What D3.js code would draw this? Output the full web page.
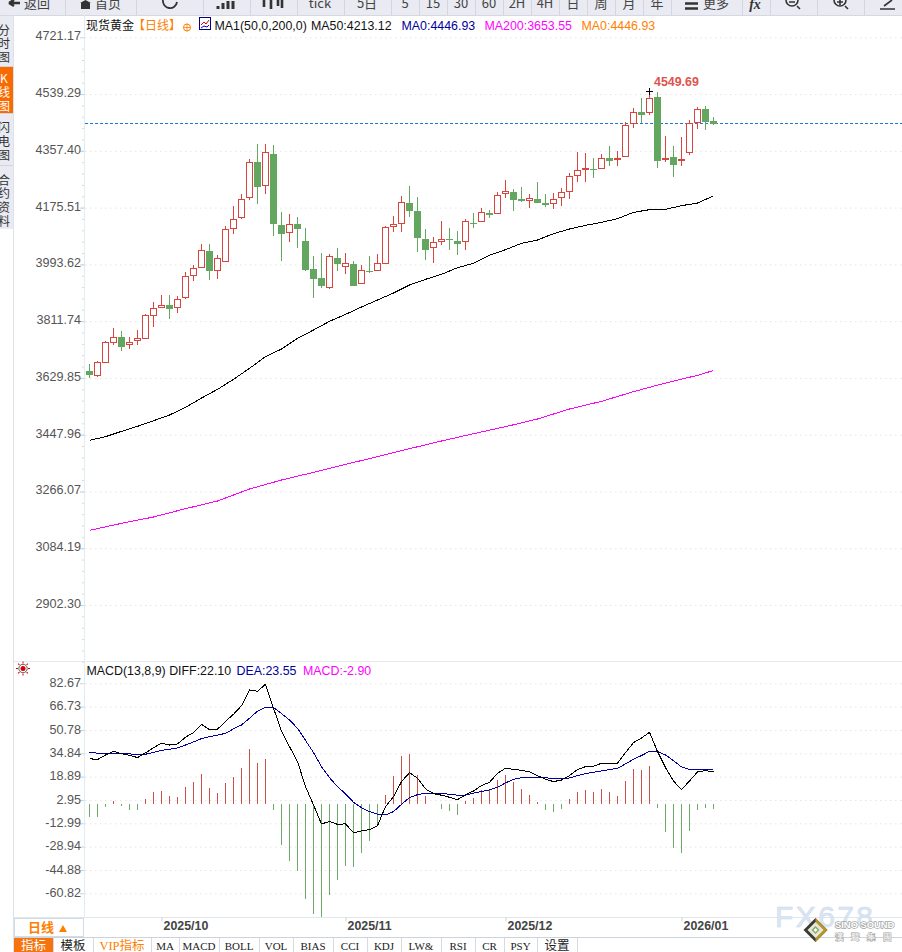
<!DOCTYPE html>
<html>
<head>
<meta charset="utf-8">
<title>现货黄金 日线</title>
<script src="https://cdn.jsdelivr.net/npm/d3@7"></script>
<style>
  html, body { margin: 0; padding: 0; background: #fff; overflow: hidden; }
  svg { display: block; font-family: "Liberation Sans", Arial, sans-serif; }
  .cjk { font-family: "Noto Sans CJK SC", sans-serif; }
</style>
</head>
<body>
<svg id="chart" width="902" height="952"></svg>
<script>
// daily candles, one entry per trading day
const candleOpen = [3655.2,3639.2,3681.9,3742.8,3764.1,3736.3,3749.2,3755.6,3829.3,3858.1,
  3866.6,3854.9,3886.9,3957.4,3983.1,4038.6,3973.4,4002.3,4108,4143.3,
  4207.3,4324.8,4245.8,4349.4,4123,4096.3,4126.2,4071.7,3982,3953.1,
  3919,4017.2,3986.3,3998,3931.8,3974.5,3973.4,3995.8,4114.4,4125.1,
  4193.4,4167.8,4078.1,4047.1,4067.4,4077,4071.7,4067.4,4129.3,4130.4,
  4161.4,4156,4221.2,4228.7,4206.2,4200.9,4206.2,4193.4,4189.1,4208.5,
  4226.6,4277.9,4298.2,4301.4,4301.4,4336.6,4329.1,4339.8,4445.6,4484,
  4479.7,4533.1,4331.3,4340.9,4325.9,4351.6,4448.8,4494.7,4456.2];
const candleClose = [3642.4,3679.7,3744.9,3759.8,3732.1,3743.8,3756.6,3830.3,3852.8,3863.4,
  3854.9,3881.6,3955.3,3980.9,4038.6,3973.4,4013,4105.9,4137.9,4202,
  4320.5,4245.8,4352.6,4124,4095.2,4121.9,4110.1,3978.8,3949.9,3927.5,
  4019.4,3998,3996.9,3927.5,3974.5,3973.4,3996.9,4112.2,4121.9,4192.3,
  4168.8,4081.3,4042.8,4064.2,4073.8,4072.7,4062,4131.5,4127.2,4160.3,
  4156,4214.8,4227.6,4203,4200.9,4206.2,4193.4,4188.1,4202,4224.5,
  4275.7,4295,4301.4,4300.3,4333.4,4328.1,4333.4,4439.2,4480.8,4475.5,
  4525.7,4328.1,4334.5,4315.3,4330.2,4445.6,4490.4,4453,4446.93];
const candleHigh = [3674.4,3684,3748.1,3789.7,3780.1,3762,3783.3,3834.6,3872,3895.5,
  3895.5,3892.3,3969.2,3991.6,4058.9,4058.9,4023.6,4116.6,4180.6,4219.1,
  4331.2,4379.3,4379.3,4376.1,4161.4,4155,4145.4,4110.1,4020.4,4030,
  4026.8,4046.1,4030,4004.4,3991.6,4020.4,4026.8,4116.5,4148.6,4212.6,
  4244.7,4209.4,4106.9,4081.3,4132.5,4110.1,4100.5,4138.9,4158.2,4174.2,
  4167.8,4225.5,4263.9,4235.1,4241.5,4219,4257.5,4219,4222.2,4238.4,
  4286.4,4353.7,4350.5,4334.5,4347.3,4372.9,4356.9,4449.8,4494.7,4526.7,
  4549.69,4547,4405,4372.9,4401.8,4456.2,4497.9,4501.1,4465.9];
const candleLow = [3629.5,3633.8,3681.9,3735.3,3716.1,3722.5,3735.3,3754.5,3793,3854.9,
  3818.6,3837.8,3882.7,3940.3,3983.1,3943.5,3946.7,4002.3,4090.9,4139,
  4199.9,4187,4219.1,4084.5,4004.4,4065.3,4046.1,3972.4,3885.9,3917.9,
  3914.7,3972.4,3962.8,3927.5,3930.7,3966,3973.4,3995.8,4097.3,4097.3,
  4145.4,4033.2,4007.6,3998,4055.6,4039.6,4023.6,4039.6,4110.1,4130.4,
  4142.1,4156,4206.2,4164.6,4193.4,4174.2,4190.2,4177.4,4171,4180.7,
  4203.1,4257.6,4257.6,4270.4,4301.4,4308.9,4308.9,4339.8,4430.6,4446.6,
  4472.3,4302.4,4321.7,4273.6,4308.9,4344.1,4427.4,4424.2,4440.2];

const ma50Days = [0,2,4,6,8,10,12,14,16,18,20,22,24,26,28,30,32,34,36,38,
  40,42,44,46,48,50,52,54,56,58,60,62,64,66,68,70,72,74,76,78];
const ma50Values = [3429.8,3441.6,3458.6,3474.7,3492.8,3511,3535.5,3565.4,3593.2,3625.3,
  3660.5,3697.9,3722.4,3756.6,3783.3,3811.1,3833.5,3857,3879.5,3901.8,
  3927.5,3945.7,3961.7,3983.1,3996.9,4022.6,4040.7,4061,4071.7,4092,
  4106.9,4118.7,4128.3,4140.1,4160.3,4168.9,4170,4181.7,4190.2,4213.12];
const ma200Days = [0,4,8,12,16,20,24,28,32,36,40,44,48,52,56,60,64,68,72,76,78];
const ma200Values = [3141.5,3163.9,3184.2,3210.9,3235.4,3273.9,3302.7,3327.3,3352.9,3377.5,
  3403.1,3427.7,3451.2,3473.6,3498.2,3530.2,3554.8,3585.8,3613.5,3638.1,3653.55];

// MACD panel
const diffValues = [31.2,30.5,33.7,36.2,34.6,33.5,31.9,35.1,38.7,41.7,
  40.5,41.2,45.8,49,54.7,51,51.3,56.7,61.5,67.4,
  78.1,77.2,82,65.6,50.1,39.4,29.2,12.1,-0.5,-13.4,
  -11.8,-13.7,-13.4,-19.4,-18.2,-17.3,-14.6,-1.6,5.2,15.5,
  21.6,17.8,10.5,7.3,6.2,4.8,3.2,6.4,9.1,12.8,
  15,21.2,24.6,23.9,23.2,22.1,19.6,17.1,15.5,16.6,
  19.6,23.7,25.7,26,28,28,28,35.3,42.1,45.3,
  49.2,36,25.1,15.9,10,15.9,22.1,23,22.1];
const deaValues = [35.5,34.9,34.4,34.9,34.9,34.4,34.2,34.2,35.5,36.9,
  37.6,38.5,40.5,42.6,44.9,46.2,47.2,48.5,51.5,54.2,
  58.8,63.6,66.3,66.1,62,57.6,51.9,43.7,35.3,25.7,
  18.2,12.1,7.1,1.4,-2.3,-5,-6.8,-7.3,-5,0,
  4.6,6.6,7.7,7.5,7.5,6.8,6.2,6.2,7.7,8.7,
  9.8,11.6,14.6,17.1,18.2,18.5,18.5,18.2,17.5,17.5,
  18,19.6,21,21.9,22.8,23.7,24.6,27.6,30.8,33.3,
  36.2,36.2,33.7,29.8,25.5,23.9,23.9,23.5,23.55];
const macdBars = [-8.9,-8.9,-2,2.5,-1.4,-3.6,-4.1,3.9,8.7,9.3,
  5.9,5.2,12.1,15.5,20.9,11.4,8,14.8,18.9,25,
  38,28.5,31.2,-3.6,-28,-38.5,-45.3,-64.4,-74.7,-76.7,
  -61.7,-51.5,-41.9,-42.6,-33,-24.8,-13.9,6.6,19.6,33.2,
  34.6,20.3,5.9,0.5,-3,-4.3,-7.1,2.5,4.6,10,
  10,16.8,20.3,15.5,10.7,6.6,1.8,-3.6,-5,-3,
  3.9,8.7,10,8.7,10.7,8.7,5.9,16.2,24.4,23.7,
  26.4,-2.3,-18.7,-29.6,-33,-18,-3.6,-2.3,-2.9];

// axis labels
const priceTicks = [4721.17,4539.29,4357.40,4175.51,3993.62,3811.74,3629.85,3447.96,3266.07,3084.19,2902.30];
const macdTicks = [82.67,66.73,50.78,34.84,18.89,2.95,-12.99,-28.94,-44.88,-60.82];
const monthDays = [9,32,52,74];
const monthLabels = ["2025/10","2025/11","2025/12","2026/01"];
const lastClose = 4446.93;
const maxHigh = 4549.69;

const red = "#d9443f", green = "#62a65f", navy = "#00009c", magenta = "#ff00ff", orange = "#ff8000";
const svg = d3.select("#chart");

const x = d3.scaleLinear().domain([0, 78]).range([89.5, 713.5]);
const priceY = d3.scaleLinear().domain([2902.30, 4721.17]).range([605, 37.3]);
const macdY = d3.scaleLinear().domain([-60.82, 82.67]).range([893.3, 683.3]);
const snap = (v) => Math.round(v) + 0.5;

// --- window chrome behind the chart
svg.append("rect").attr("x", 0).attr("y", 0).attr("width", 902).attr("height", 15).attr("fill", "#e9eaf2");
svg.append("line").attr("x1", 0).attr("x2", 902).attr("y1", 15.5).attr("y2", 15.5).attr("stroke", "#d5d8e0");
svg.append("line").attr("x1", 13.5).attr("x2", 13.5).attr("y1", 15).attr("y2", 952).attr("stroke", "#dde2ea");
svg.append("line").attr("x1", 84.5).attr("x2", 84.5).attr("y1", 15).attr("y2", 917).attr("stroke", "#e2ebf2");

// --- price panel
const gridAxis = (scale, ticks) => d3.axisRight(scale).tickValues(ticks).tickSize(817).tickFormat("");
const gridStyle = (g) => {
  g.select(".domain").remove();
  g.selectAll("line").attr("stroke", "#e4e4e4").attr("stroke-dasharray", "1.5,3.5");
};
const labelAxis = (g, scale, ticks, lift) => {
  g.attr("transform", "translate(84,0)")
    .call(d3.axisLeft(scale).tickValues(ticks).tickSize(4).tickPadding(-1).tickFormat((d) => d.toFixed(2)));
  g.select(".domain").remove();
  g.selectAll("line").attr("stroke", "#c8d0d8");
  g.selectAll("text").attr("y", -lift).attr("font-size", 12.6).attr("fill", "#555").attr("font-family", "Liberation Sans");
};
const minorAxis = (g, scale, lo, hi, step) => {
  g.attr("transform", "translate(84,0)")
    .call(d3.axisLeft(scale).tickValues(d3.range(lo, hi, step)).tickSize(2).tickFormat(""));
  g.select(".domain").remove();
  g.selectAll("line").attr("stroke", "#d3dae0");
};

svg.append("g").attr("transform", "translate(85,0)").call(gridAxis(priceY, priceTicks)).call(gridStyle);
svg.append("g").call(minorAxis, priceY, 2720.41, 4721.17, 36.378);
svg.append("g").call(labelAxis, priceY, priceTicks, 1.6);

// dashed line at the last close
svg.append("line")
  .attr("x1", 85).attr("x2", 902)
  .attr("y1", snap(priceY(lastClose))).attr("y2", snap(priceY(lastClose)))
  .attr("stroke", "#1c7ad6").attr("stroke-dasharray", "3,2");

const days = d3.range(candleOpen.length);
const isUp = (i) => candleClose[i] >= candleOpen[i];

const candles = svg.append("g").attr("shape-rendering", "crispEdges");
candles.selectAll("line.wick").data(days).join("line")
  .attr("class", "wick")
  .attr("x1", (i) => x(i)).attr("x2", (i) => x(i))
  .attr("y1", (i) => priceY(candleHigh[i])).attr("y2", (i) => priceY(candleLow[i]))
  .attr("stroke", (i) => (isUp(i) ? red : green));
candles.selectAll("rect.body").data(days).join("rect")
  .attr("class", "body")
  .attr("x", (i) => (isUp(i) ? x(i) - 3 : x(i) - 3.5))
  .attr("width", (i) => (isUp(i) ? 6 : 7))
  .attr("y", (i) => snap(priceY(Math.max(candleOpen[i], candleClose[i]))))
  .attr("height", (i) => Math.max(1, Math.round(Math.abs(priceY(candleOpen[i]) - priceY(candleClose[i])))))
  .attr("fill", (i) => (isUp(i) ? "#fff" : green))
  .attr("stroke", (i) => (isUp(i) ? red : "none"));

const maLine = d3.line().x((d) => x(d[0])).y((d) => priceY(d[1]));
svg.append("path").datum(d3.zip(ma50Days, ma50Values)).attr("d", maLine)
  .attr("fill", "none").attr("stroke", "#000").attr("stroke-width", 1).attr("shape-rendering", "crispEdges");
svg.append("path").datum(d3.zip(ma200Days, ma200Values)).attr("d", maLine)
  .attr("fill", "none").attr("stroke", magenta).attr("stroke-width", 1).attr("shape-rendering", "crispEdges");

// highest price marker
const maxDay = candleHigh.indexOf(maxHigh);
svg.append("path")
  .attr("d", `M${x(maxDay) - 3.5},${snap(priceY(maxHigh))}h7M${x(maxDay)},${snap(priceY(maxHigh)) - 3.5}v7`)
  .attr("stroke", "#000").attr("shape-rendering", "crispEdges");
svg.append("text").attr("x", x(maxDay) + 4.5).attr("y", priceY(maxHigh) - 4.5)
  .attr("font-size", 12.4).attr("font-weight", "bold").attr("fill", "#e0524d").text(maxHigh.toFixed(2));

// legend above the price panel
const legend = (items, y) => items.forEach(([tx, txt, col]) => {
  svg.append("text").attr("x", tx).attr("y", y).attr("font-size", 12.4).attr("fill", col).text(txt);
});
svg.append("text").attr("class", "cjk").attr("x", 86).attr("y", 30).attr("font-size", 12).attr("fill", "#111").text("现货黄金");
svg.append("text").attr("class", "cjk").attr("x", 133).attr("y", 30).attr("font-size", 12).attr("fill", orange).text("【日线】");
svg.append("circle").attr("cx", 187).attr("cy", 27.5).attr("r", 3.5).attr("fill", "none").attr("stroke", orange);
svg.append("path").attr("d", "M183,27.5h8M187,23.5v8").attr("stroke", orange).attr("stroke-width", 0.8);
svg.append("rect").attr("x", 199.5).attr("y", 17.5).attr("width", 11).attr("height", 12).attr("fill", "#fff").attr("stroke", "#000080");
svg.append("path").attr("d", "M201,25l3,-3l2,2l3,-4").attr("fill", "none").attr("stroke", "#d00");
svg.append("path").attr("d", "M201,28l3,-2l3,1l2,-2").attr("fill", "none").attr("stroke", "#00c");
legend([
  [214.5, "MA1(50,0,200,0)", "#111"],
  [311, `MA50:${ma50Values[ma50Values.length - 1]}`, "#111"],
  [401.5, `MA0:${lastClose}`, navy],
  [484.5, `MA200:${ma200Values[ma200Values.length - 1]}`, magenta],
  [581.5, `MA0:${lastClose}`, orange],
], 30);

// --- MACD panel
svg.append("line").attr("x1", 14).attr("x2", 902).attr("y1", 661.5).attr("y2", 661.5).attr("stroke", "#e4eaef");
svg.append("g").attr("transform", "translate(85,0)").call(gridAxis(macdY, macdTicks)).call(gridStyle);
svg.append("g").call(labelAxis, macdY, macdTicks, 1);

const barGroup = svg.append("g").attr("shape-rendering", "crispEdges");
barGroup.selectAll("line").data(days).join("line")
  .attr("x1", (i) => x(i)).attr("x2", (i) => x(i))
  .attr("y1", macdY(0)).attr("y2", (i) => macdY(macdBars[i]))
  .attr("stroke", (i) => (macdBars[i] >= 0 ? "#c9514c" : "#6fa86a"));

const macdLine = d3.line().x((d, i) => x(i)).y((d) => macdY(d));
svg.append("path").datum(deaValues).attr("d", macdLine).attr("fill", "none").attr("stroke", navy).attr("shape-rendering", "crispEdges");
svg.append("path").datum(diffValues).attr("d", macdLine).attr("fill", "none").attr("stroke", "#000").attr("shape-rendering", "crispEdges");

legend([
  [86.5, `MACD(13,8,9) DIFF:${diffValues[78].toFixed(2)}`, "#111"],
  [236.5, `DEA:${deaValues[78]}`, navy],
  [303, `MACD:${macdBars[78].toFixed(2)}`, magenta],
], 675);

// small sun icon
const sun = svg.append("g").attr("transform", "translate(23,668.5)");
sun.append("circle").attr("r", 2.5).attr("fill", "#d40000");
sun.append("circle").attr("r", 4.2).attr("fill", "none").attr("stroke", "#222").attr("stroke-width", 0.7);
d3.range(0, 360, 45).forEach((a) => {
  sun.append("line").attr("x1", 5).attr("x2", 7).attr("transform", `rotate(${a})`).attr("stroke", "#d40000");
});

// --- bottom date axis
const dateAxis = svg.append("g").attr("transform", "translate(0,917.5)")
  .call(d3.axisBottom(x).tickValues(monthDays).tickSize(4).tickFormat((d, i) => monthLabels[i]));
dateAxis.select(".domain").attr("stroke", "#dfe6ec").attr("d", "M14,0H902");
dateAxis.selectAll("line").attr("stroke", "#c8d0d8");
dateAxis.selectAll("text")
  .attr("text-anchor", "start").attr("x", 1.5).attr("y", 12.5).attr("dy", 0)
  .attr("font-size", 12.4).attr("font-weight", "bold").attr("fill", "#444").attr("font-family", "Liberation Sans");

svg.append("rect").attr("x", 14.5).attr("y", 918.5).attr("width", 69).attr("height", 18).attr("fill", "#fff").attr("stroke", "#d5dbe3");
svg.append("text").attr("class", "cjk").attr("x", 28).attr("y", 932).attr("font-size", 13).attr("font-weight", "bold").attr("fill", orange).text("日线");
svg.append("path").attr("d", "M59,932l4,-7l4,7z").attr("fill", orange);

// --- bottom tabs
svg.append("line").attr("x1", 14).attr("x2", 902).attr("y1", 937.5).attr("y2", 937.5).attr("stroke", "#cdd3dc");
svg.append("rect").attr("x", 14).attr("y", 938).attr("width", 39).attr("height", 14).attr("fill", "#f57410");
const tabs = [["指标", 14, 53], ["模板", 53, 93], ["VIP指标", 93, 151], ["MA", 151, 179], ["MACD", 179, 219],
  ["BOLL", 219, 259], ["VOL", 259, 293], ["BIAS", 293, 333], ["CCI", 333, 367], ["KDJ", 367, 401],
  ["LW&", 401, 441], ["RSI", 441, 475], ["CR", 475, 504], ["PSY", 504, 537], ["设置", 537, 577]];
tabs.forEach(([name, a, b], i) => {
  svg.append("line").attr("x1", b + 0.5).attr("x2", b + 0.5).attr("y1", 938).attr("y2", 952).attr("stroke", "#d6dbe3");
  svg.append("text").attr("x", (a + b) / 2).attr("y", 950).attr("text-anchor", "middle")
    .attr("font-size", /[A-Z]/.test(name) && i !== 2 ? 11 : 12.5)
    .attr("font-family", "'Liberation Serif','Noto Sans CJK SC',serif")
    .attr("fill", i === 0 ? "#fff" : i === 2 ? orange : "#222").text(name);
});

// --- top toolbar, its labels cut by the window edge
const toolbarEdges = [65,136,203,250,297,344,391,419,447,475,503,531,559,587,615,643,671,742,770,817,864];
toolbarEdges.forEach((e) => {
  svg.append("line").attr("x1", e + 0.5).attr("x2", e + 0.5).attr("y1", 0).attr("y2", 15).attr("stroke", "#d3d6df");
});
const toolbarLabels = [["返回", 37], ["首页", 108], ["tick", 320], ["5日", 367], ["5", 405], ["15", 433], ["30", 461],
  ["60", 489], ["2H", 517], ["4H", 545], ["日", 573], ["周", 601], ["月", 629], ["年", 657], ["更多", 716]];
toolbarLabels.forEach(([t, cx]) => {
  svg.append("text").attr("class", "cjk").attr("x", cx).attr("y", 7.5).attr("text-anchor", "middle")
    .attr("font-size", 13).attr("fill", "#444").text(t);
});
const toolbarIcons = svg.append("g").attr("fill", "none").attr("stroke", "#333").attr("stroke-width", 1.6);
toolbarIcons.append("path").attr("d", "M9,3L14,0M9,3L14,6M9,3H20").attr("stroke-width", 2.5);
toolbarIcons.append("path").attr("d", "M80,3L85.5,0L91,3H90V9H81V3z").attr("fill", "#333").attr("stroke", "none");
toolbarIcons.append("path").attr("d", "M163,0A7,7 0 0,0 177,2").attr("stroke-width", 1.8);
toolbarIcons.append("path").attr("d", "M218,9V6M223,9V3M228,9V1M233,9V1").attr("stroke-width", 3);
toolbarIcons.append("path").attr("d", "M264,0V7M271,0V9M278,0V6M282,0V8").attr("stroke-width", 2.6);
toolbarIcons.append("path").attr("d", "M685,8.5H698M685,3.5H698").attr("stroke-width", 2.4);
svg.append("text").attr("x", 755).attr("y", 9).attr("text-anchor", "middle").attr("font-size", 14).attr("font-weight", "bold")
  .attr("font-style", "italic").attr("font-family", "Liberation Serif").attr("fill", "#333").text("fx");
toolbarIcons.append("path").attr("d", "M786,0A6,6 0 0,0 798,0M789,2H795M797,6L800,9");
toolbarIcons.append("path").attr("d", "M834,0A6,6 0 0,0 846,0M837,2H843M840,-1V5M845,6L848,9");
toolbarIcons.append("path").attr("d", "M884,6L892,0M880,9H895");

// --- left side tabs
svg.append("rect").attr("x", 0).attr("y", 16).attr("width", 13).attr("height", 213).attr("fill", "#e9eaf2");
svg.append("rect").attr("x", 0).attr("y", 67).attr("width", 13).attr("height", 46).attr("fill", "#f96a00");
[66.5, 113.5, 165.5].forEach((sy) => {
  svg.append("line").attr("x1", 0).attr("x2", 13).attr("y1", sy).attr("y2", sy).attr("stroke", "#d0d4dd");
});
const sideTabs = [["分", 35], ["时", 48], ["图", 62], ["K", 83], ["线", 97], ["图", 111], ["闪", 132], ["电", 146], ["图", 160],
  ["合", 185], ["约", 198], ["资", 212], ["料", 226]];
sideTabs.forEach(([t, sy], i) => {
  svg.append("text").attr("class", "cjk").attr("x", 4).attr("y", sy).attr("text-anchor", "middle")
    .attr("font-size", 12).attr("fill", i >= 3 && i <= 5 ? "#fff" : "#333").text(t);
});

// --- watermark
svg.append("text").attr("x", 775).attr("y", 927).attr("font-size", 30).attr("letter-spacing", 2.4)
  .attr("fill", "#dbe6f4").attr("stroke", "#c9d8ec").attr("stroke-width", 0.5).text("FX678");
const logo = svg.append("g").attr("transform", "translate(815.5,930)");
logo.append("path").attr("d", "M0,-12L12,0L0,12L-12,0z").attr("fill", "#3a3a34");
logo.append("path").attr("d", "M0,-12L12,0L0,12z").attr("fill", "#b5962e");
logo.append("path").attr("d", "M0,-8L8,0L0,8L-8,0z").attr("fill", "#e9e6d8");
logo.append("path").attr("d", "M0,-4L4,0L0,4L-4,0z").attr("fill", "#7fae6a");
logo.append("path").attr("d", "M0,-2L2,0L0,2L-2,0z").attr("fill", "#fff");
svg.append("text").attr("x", 835).attr("y", 928).attr("font-size", 9.4).attr("font-weight", "bold")
  .attr("fill", "#fff").attr("stroke", "#a5a5a5").attr("stroke-width", 1.4).attr("paint-order", "stroke").text("SINO SOUND");
svg.append("text").attr("x", 835).attr("y", 939.5).attr("font-size", 8.5).attr("letter-spacing", 7.5)
  .attr("font-family", "Noto Sans CJK TC")
  .attr("fill", "#fff").attr("stroke", "#aaa").attr("stroke-width", 1.2).attr("paint-order", "stroke").text("漢聲集團");
</script>
</body>
</html>
